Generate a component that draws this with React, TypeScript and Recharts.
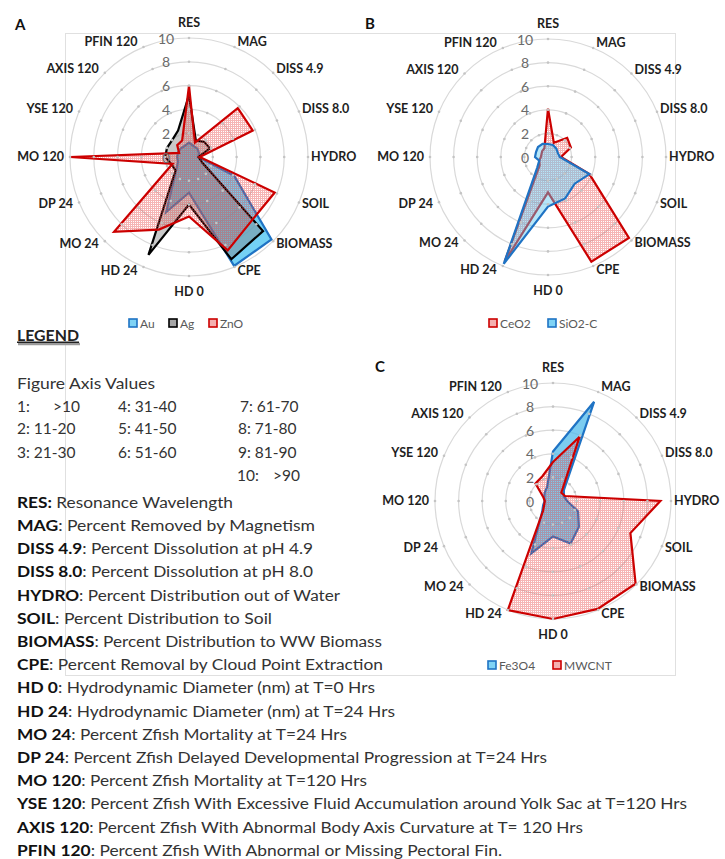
import React from 'react';
import { RadarChart, Radar, PolarGrid, PolarAngleAxis, PolarRadiusAxis } from 'recharts';

// ---------- data ----------
const axes = ['RES', 'MAG', 'DISS 4.9', 'DISS 8.0', 'HYDRO', 'SOIL', 'BIOMASS', 'CPE', 'HD 0', 'HD 24', 'MO 24', 'DP 24', 'MO 120', 'YSE 120', 'AXIS 120', 'PFIN 120'];

// Panel A
const auValues = [1.2, 1.0, 1.0, 0.9, 0.8, 4.1, 9.8, 9.9, 3.0, 5.0, 1.5, 1.0, 1.0, 1.0, 1.0, 1.0];
const agValues = [5.2, 1.5, 1.8, 1.9, 0.8, 1.2, 8.8, 9.3, 4.0, 8.9, 1.6, 1.6, 2.0, 2.0, 2.0, 2.4];
const znoValues = [6.0, 1.3, 5.8, 5.8, 0.9, 7.8, 7.5, 8.5, 5.0, 6.6, 8.9, 1.5, 10.0, 0.9, 1.4, 1.5];
// Panel B
const ceo2Values = [4.1, 1.3, 2.3, 2.1, 1.1, 3.8, 9.7, 9.6, 3.0, 9.6, 1.0, 0.8, 0.6, 0.6, 0.7, 0.8];
const sio2cValues = [1.1, 1.1, 1.0, 0.9, 1.0, 3.8, 3.2, 3.8, 4.2, 9.8, 1.3, 0.8, 1.1, 1.1, 1.2, 1.2];
// Panel C
const fe3o4Values = [4.2, 9.1, 1.3, 1.0, 1.2, 2.3, 3.1, 3.9, 3.0, 4.8, 1.3, 0.9, 0.7, 0.8, 1.0, 1.3];
const mwcntValues = [3.3, 5.9, 1.0, 1.1, 9.1, 7.1, 9.9, 9.9, 10.0, 10.0, 1.2, 0.8, 0.7, 0.9, 2.1, 2.3];

const radiusTicks = [0, 2, 4, 6, 8, 10];

const axisValueCols = [
  ['1:', '2: 11-20', '3: 21-30'],
  ['4: 31-40', '5: 41-50', '6: 51-60'],
  ['7: 61-70', '8: 71-80', '9: 81-90', '10:'],
];

const defKeys = ['RES:', 'MAG', 'DISS 4.9', 'DISS 8.0', 'HYDRO', 'SOIL', 'BIOMASS', 'CPE', 'HD 0', 'HD 24', 'MO 24', 'DP 24', 'MO 120', 'YSE 120', 'AXIS 120', 'PFIN 120'];
const defTexts = [
  ' Resonance Wavelength',
  ': Percent Removed by Magnetism',
  ': Percent Dissolution at pH 4.9',
  ': Percent Dissolution at pH 8.0',
  ': Percent Distribution out of Water',
  ':  Percent Distribution to Soil',
  ': Percent Distribution to WW Biomass',
  ': Percent Removal by Cloud Point Extraction',
  ': Hydrodynamic Diameter (nm) at T=0 Hrs',
  ': Hydrodynamic Diameter (nm) at T=24 Hrs',
  ': Percent Zfish Mortality at T=24 Hrs',
  ': Percent Zfish Delayed Developmental Progression at T=24 Hrs',
  ': Percent Zfish Mortality at T=120 Hrs',
  ': Percent Zfish With Excessive Fluid Accumulation around Yolk Sac at T=120 Hrs',
  ': Percent Zfish With Abnormal Body Axis Curvature at T= 120 Hrs',
  ': Percent Zfish With Abnormal or Missing Pectoral Fin.',
];
const defEnds = [233, 315, 313, 313, 340, 272, 382, 383, 375, 395, 347, 547, 367, 687, 583, 502];

// ---------- helpers ----------
const FONT = 'Lato, "Open Sans", sans-serif';

type SeriesDef = { key: string; values: number[]; stroke: string; fill: string; fillOpacity: number };

function buildData(series: SeriesDef[]) {
  return axes.map((a, i) => {
    const row: Record<string, any> = { axis: a };
    series.forEach((s) => { row[s.key] = s.values[i]; });
    return row;
  });
}

function makeAngleTick(CX: number, CY: number, R: number) {
  return (props: any) => {
    const { x, y, payload } = props;
    const dx = x - CX;
    const dy = y - CY;
    const L = Math.hypot(dx, dy) || 1;
    const s = dx / L;
    const c = -dy / L;
    const bx = CX + R * s;
    const by = CY - R * c;
    let tx = bx;
    let ty = by;
    let anchor: 'start' | 'middle' | 'end' = 'middle';
    if (Math.abs(s) < 0.15) {
      ty = by + (c > 0 ? -16 : 15);
    } else if (s > 0) {
      anchor = 'start';
      tx = bx + 3;
      ty = by - 5 * c - 1;
    } else {
      anchor = 'end';
      tx = bx - 6;
      ty = by - 5 * c - 1;
    }
    const dots = [0.2, 0.4, 0.6, 0.8, 1].map((f) => (
      <circle key={f} cx={CX + R * f * s} cy={CY - R * f * c} r={1.3} fill="#c4c4c4" />
    ));
    return (
      <g>
        {dots}
        <text x={tx} y={ty} textAnchor={anchor} dominantBaseline="central" fontFamily={FONT} fontWeight={700} fontSize={12.5} fill="#1e1e1e">
          {payload.value}
        </text>
      </g>
    );
  };
}

const radiusTick = (props: any) => {
  const { x, y, payload } = props;
  return (
    <text x={x - 23} y={y} textAnchor="middle" dominantBaseline="central" fontFamily={FONT} fontSize={14} fill="#6a6a6a">
      {payload.value}
    </text>
  );
};

function Panel({ left, top, width, height, cx, cy, R, series, pid }: { left: number; top: number; width: number; height: number; cx: number; cy: number; R: number; series: SeriesDef[]; pid: string }) {
  const data = buildData(series);
  return (
    <div style={{ position: 'absolute', left, top, width, height }}>
      <RadarChart width={width} height={height} cx={cx} cy={cy} outerRadius={R} data={data} margin={{ top: 0, right: 0, bottom: 0, left: 0 }}>
        <defs>
          <pattern id={pid} width="2" height="2" patternUnits="userSpaceOnUse">
            <path d="M0 0.5H2M0.5 1V2" stroke="rgb(232,70,70)" strokeOpacity="0.4" strokeWidth="1" />
          </pattern>
        </defs>
        <PolarGrid gridType="circle" radialLines={false} stroke="#d9d9d9" strokeWidth={1.2} />
        <PolarAngleAxis dataKey="axis" tick={makeAngleTick(cx, cy, R)} axisLine={false} tickLine={false} />
        <PolarRadiusAxis angle={90} domain={[0, 10]} ticks={radiusTicks} tickCount={6} tick={radiusTick} axisLine={false} tickLine={false} type="number" />
        {series.map((s) => (
          <Radar
            key={s.key}
            dataKey={s.key}
            stroke={s.stroke}
            strokeWidth={2.2}
            fill={s.fill === 'pattern' ? `url(#${pid})` : s.fill}
            fillOpacity={s.fillOpacity}
            dot={false}
            isAnimationActive={false}
          />
        ))}
      </RadarChart>
    </div>
  );
}

function LegendKeys({ x, y, items }: { x: number; y: number; items: { label: string; stroke: string; fill: string; w: number }[] }) {
  let cur = x;
  return (
    <g>
      {items.map((it) => {
        const gx = cur;
        cur += it.w;
        return (
          <g key={it.label}>
            <rect x={gx} y={y - 4} width={8} height={8} fill={it.fill} stroke={it.stroke} strokeWidth={1.6} />
            <text x={gx + 11} y={y} dominantBaseline="central" fontFamily={FONT} fontSize={12} fill="#595959">{it.label}</text>
          </g>
        );
      })}
    </g>
  );
}

const seriesA: SeriesDef[] = [
  { key: 'Au', values: auValues, stroke: '#1f73c4', fill: '#45c1f0', fillOpacity: 0.75 },
  { key: 'Ag', values: agValues, stroke: '#000000', fill: '#7f7f7f', fillOpacity: 0.42 },
  { key: 'ZnO', values: znoValues, stroke: '#cc0000', fill: 'pattern', fillOpacity: 1 },
];
const seriesB: SeriesDef[] = [
  { key: 'CeO2', values: ceo2Values, stroke: '#cc0000', fill: 'pattern', fillOpacity: 1 },
  { key: 'SiO2-C', values: sio2cValues, stroke: '#1f73c4', fill: '#5cc8f2', fillOpacity: 0.45 },
];
const seriesC: SeriesDef[] = [
  { key: 'Fe3O4', values: fe3o4Values, stroke: '#1f73c4', fill: '#4ab8ea', fillOpacity: 0.72 },
  { key: 'MWCNT', values: mwcntValues, stroke: '#cc0000', fill: 'pattern', fillOpacity: 1 },
];

export default function App() {
  const colX = [17, 118, 240];
  const rowY = [406, 428.5, 452, 475];
  return (
    <div style={{ position: 'absolute', left: 0, top: 0, width: 725, height: 859, background: '#ffffff', overflow: 'hidden' }}>
      <svg width={725} height={859} style={{ position: 'absolute', left: 0, top: 0 }}>
        <rect x={65.5} y={33.5} width={610} height={642} fill="none" stroke="#e0e0e0" strokeWidth={1} />
        <text x={15} y={30} fontFamily={FONT} fontWeight={700} fontSize={15} fill="#111">A</text>
        <text x={365} y={29} fontFamily={FONT} fontWeight={700} fontSize={15} fill="#111">B</text>
        <text x={375} y={372} fontFamily={FONT} fontWeight={700} fontSize={15} fill="#111">C</text>

        <LegendKeys x={129} y={323} items={[
          { label: 'Au', stroke: '#1f73c4', fill: '#7fd3f5', w: 40 },
          { label: 'Ag', stroke: '#000', fill: '#a6a6a6', w: 40 },
          { label: 'ZnO', stroke: '#cc0000', fill: '#f4b0b0', w: 40 },
        ]} />
        <LegendKeys x={489} y={323} items={[
          { label: 'CeO2', stroke: '#cc0000', fill: '#f4b0b0', w: 59 },
          { label: 'SiO2-C', stroke: '#1f73c4', fill: '#7fd3f5', w: 60 },
        ]} />
        <LegendKeys x={488} y={665} items={[
          { label: 'Fe3O4', stroke: '#1f73c4', fill: '#7fd3f5', w: 65 },
          { label: 'MWCNT', stroke: '#cc0000', fill: '#f4b0b0', w: 70 },
        ]} />

        {/* LEGEND heading */}
        <line x1={18} y1={344} x2={80} y2={344} stroke="#9a9a9a" strokeWidth={2.5} />
        <text x={17} y={340.5} fontFamily={FONT} fontWeight={700} fontSize={15} fill="#222" textLength={62} lengthAdjust="spacingAndGlyphs" textDecoration="underline">LEGEND</text>
        <text x={17} y={388.5} fontFamily={FONT} fontSize={16} fill="#333" textLength={138} lengthAdjust="spacingAndGlyphs">Figure Axis Values</text>

        {axisValueCols.map((col, ci) =>
          col.map((label, ri) => {
            const x = ci === 2 && ri === 3 ? 237 : ci === 2 && ri > 0 ? 238 : colX[ci];
            return (
              <text key={`${ci}-${ri}`} x={x} y={rowY[ri] + 5.5} fontFamily={FONT} fontSize={15.5} fill="#333">{label}</text>
            );
          })
        )}
        <text x={53} y={rowY[0] + 5.5} fontFamily={FONT} fontSize={15.5} fill="#333">&gt;10</text>
        <text x={273} y={rowY[3] + 5.5} fontFamily={FONT} fontSize={15.5} fill="#333">&gt;90</text>

        {defKeys.map((k, i) => (
          <text key={k} x={17} y={502 + i * 23.2 + 5.8} fontFamily={FONT} fontSize={15.5} fill="#333" textLength={defEnds[i] - 17} lengthAdjust="spacingAndGlyphs">
            <tspan fontWeight={700} fill="#111">{k}</tspan>
            {defTexts[i]}
          </text>
        ))}
      </svg>

      <Panel left={0} top={0} width={362} height={305} cx={189} cy={157} R={119} series={seriesA} pid="hatchA" />
      <Panel left={360} top={0} width={365} height={305} cx={188} cy={157} R={118} series={seriesB} pid="hatchB" />
      <Panel left={360} top={340} width={365} height={305} cx={193} cy={161} R={118} series={seriesC} pid="hatchC" />
    </div>
  );
}
